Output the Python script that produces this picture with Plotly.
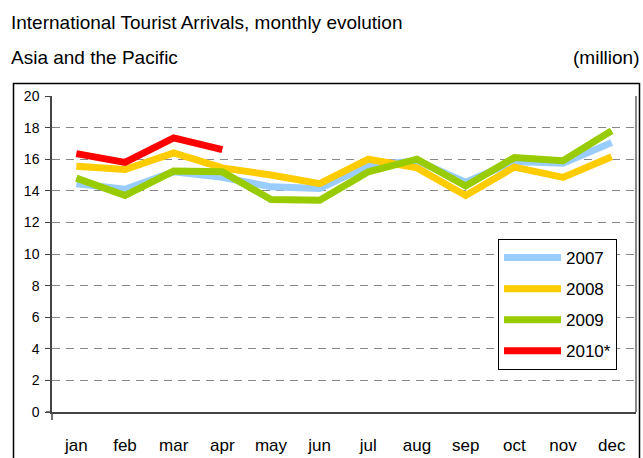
import plotly.graph_objects as go

months = ["jan", "feb", "mar", "apr", "may", "jun", "jul", "aug", "sep", "oct", "nov", "dec"]
y2007 = [14.45, 14.1, 15.2, 14.85, 14.25, 14.15, 15.6, 15.9, 14.55, 15.85, 15.75, 17.05]
y2008 = [15.55, 15.35, 16.4, 15.45, 15.0, 14.45, 16.0, 15.45, 13.7, 15.5, 14.85, 16.15]
y2009 = [14.8, 13.7, 15.25, 15.2, 13.45, 13.4, 15.2, 16.0, 14.3, 16.1, 15.9, 17.8]
y2010 = [16.35, 15.8, 17.35, 16.6]

series = [("2007", y2007, "#99CCFF"), ("2008", y2008, "#FFCC00"),
          ("2009", y2009, "#99CC00"), ("2010*", y2010, "#FF0000")]

W, H = 643, 458
L, R, T, B = 52, 7, 96, 46
PW, PH = W - L - R, H - T - B

def px(x):
    return (x - L) / PW

def py(y):
    return (H - B - y) / PH

FONT = "Liberation Sans Narrow, Arial Narrow, Liberation Sans, Arial, sans-serif"
AXC = "#444444"

fig = go.Figure()
for i, (name, vals, col) in enumerate(series):
    fig.add_trace(go.Scatter(x=months[:len(vals)], y=vals, name=name, mode="lines",
                             line=dict(color=col, width=7), legendgroup=name))

fig.update_layout(
    width=W, height=H,
    margin=dict(l=L, r=R, t=T, b=B, pad=0),
    paper_bgcolor="white", plot_bgcolor="white",
    font=dict(family=FONT, color="black"),
    showlegend=True,
    legend=dict(x=px(498), y=py(239), xanchor="left", yanchor="top",
                bordercolor="black", borderwidth=1, bgcolor="white",
                font=dict(size=17, family=FONT), itemwidth=57,
                traceorder="grouped", tracegroupgap=6),
    xaxis=dict(range=[-0.5, 11.5], showgrid=False, showline=True, linecolor=AXC,
               linewidth=1.5, ticks="", tickfont=dict(size=17), ticklabelstandoff=17,
               zeroline=False, automargin=False),
    yaxis=dict(range=[0, 20], dtick=2, showgrid=True, gridcolor="#888888", griddash="8px,6px",
               gridwidth=1, showline=True, linecolor=AXC, linewidth=1.5,
               ticks="outside", ticklen=5, tickcolor=AXC, tickfont=dict(size=14),
               ticklabelstandoff=3, zeroline=False, automargin=False),
    shapes=[
        dict(type="rect", xref="paper", yref="paper", x0=px(13.5), x1=px(639.5), y0=py(83.5), y1=py(470),
             line=dict(color="black", width=1.5), layer="below"),
        dict(type="line", xref="paper", yref="paper", x0=1, x1=1, y0=0, y1=1,
             line=dict(color="#888888", width=2)),
        dict(type="line", xref="paper", yref="paper", x0=px(46), x1=0, y0=0, y1=0,
             line=dict(color=AXC, width=1.5)),
        dict(type="line", xref="paper", yref="paper", x0=0, x1=0, y0=0, y1=py(420),
             line=dict(color=AXC, width=1.5)),
    ],
    annotations=[
        dict(text="International Tourist Arrivals, monthly evolution", xref="paper", yref="paper",
             x=px(9), y=py(22), xanchor="left", yanchor="middle", showarrow=False,
             font=dict(size=19)),
        dict(text="Asia and the Pacific", xref="paper", yref="paper",
             x=px(9), y=py(57), xanchor="left", yanchor="middle", showarrow=False,
             font=dict(size=19)),
        dict(text="(million)", xref="paper", yref="paper",
             x=px(642), y=py(57), xanchor="right", yanchor="middle", showarrow=False,
             font=dict(size=19)),
    ],
)

fig.write_html("out.html", config={"displayModeBar": False},
               post_script="document.body.style.margin='0';")
